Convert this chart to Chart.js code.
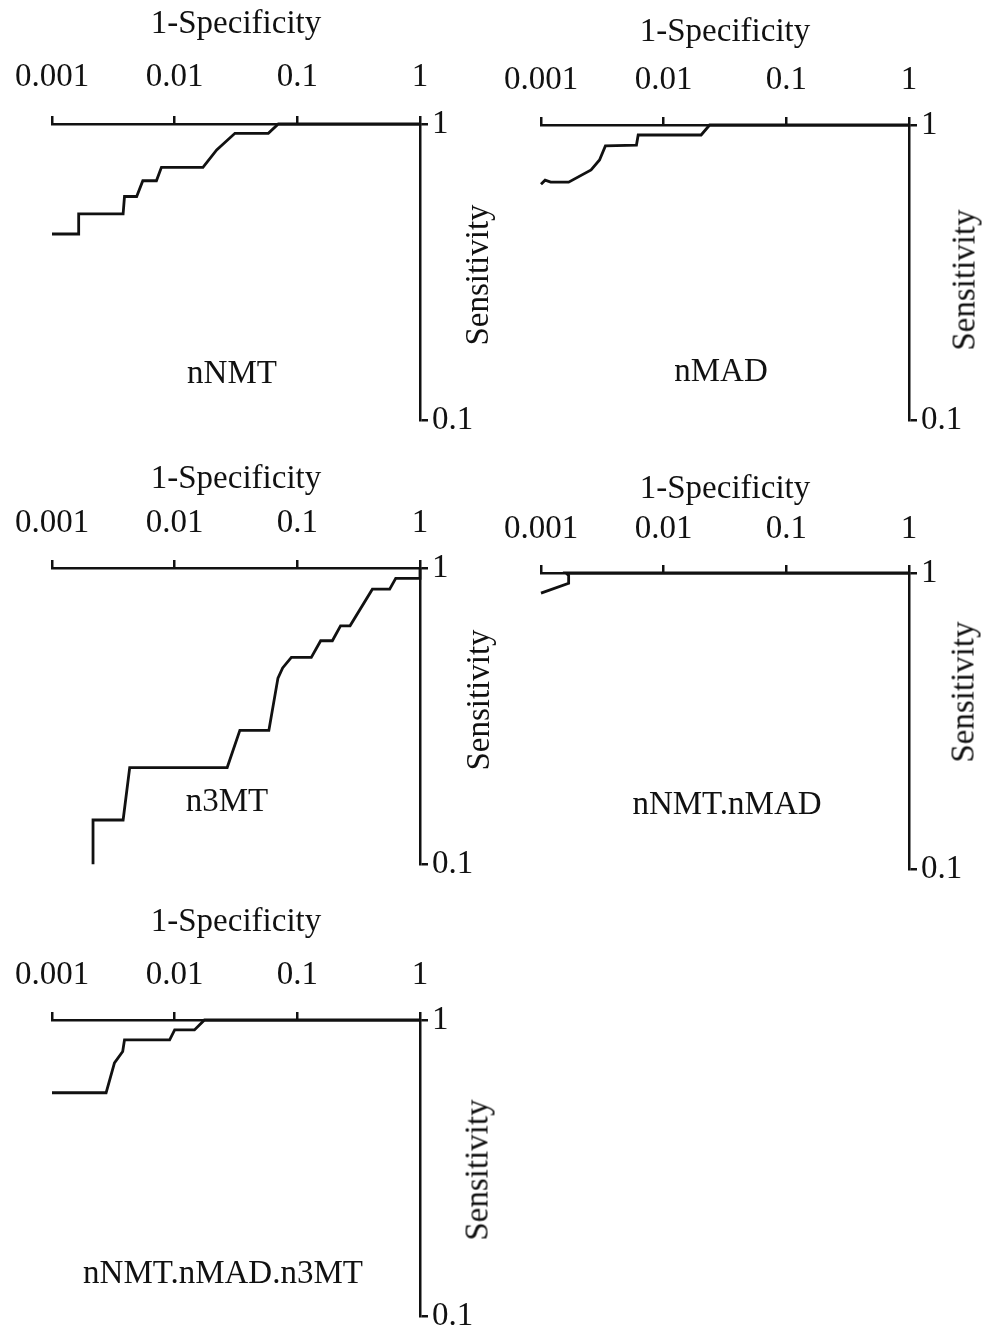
<!DOCTYPE html>
<html><head><meta charset="utf-8">
<script src="https://cdn.jsdelivr.net/npm/chart.js@4.4.1/dist/chart.umd.min.js"></script>
<style>
body{margin:0;background:#fff;width:986px;height:1335px;position:relative;overflow:hidden;font-family:"Liberation Serif","Times New Roman",serif;color:#111}
canvas{position:absolute}
.lbl{position:absolute;font-size:33px;line-height:1;white-space:nowrap;transform:translate(-50%,-50%)}
.rot{transform:translate(-50%,-50%) rotate(-90deg)}
</style></head><body>
<script>
// axis ticks
const xTicks=[0.001,0.01,0.1,1];
const xTickLabels=['0.001','0.01','0.1','1'];
const yTicks=[0.1,1];
const yTickLabels=['0.1','1'];

// ROC curves (1-specificity, sensitivity)
const nnmtFpr=[0.001,0.00165,0.00165,0.0038,0.0039,0.0049,0.0055,0.0071,0.0078,0.017,0.022,0.031,0.058,0.07,1];
const nnmtSens=[0.425,0.425,0.497,0.497,0.569,0.569,0.643,0.643,0.714,0.714,0.817,0.93,0.93,1,1];

const nmadFpr=[0.001,0.00108,0.0012,0.00168,0.00256,0.003,0.00335,0.006,0.0062,0.0202,0.0237,1];
const nmadSens=[0.63,0.65,0.64,0.64,0.704,0.761,0.849,0.855,0.925,0.925,1,1];

const n3mtFpr=[0.00216,0.00216,0.0038,0.0043,0.0268,0.034,0.0586,0.0695,0.0759,0.0894,0.13,0.155,0.193,0.225,0.269,0.409,0.566,0.634,1,1];
const n3mtSens=[0.1,0.141,0.141,0.212,0.212,0.283,0.283,0.425,0.46,0.499,0.499,0.568,0.568,0.638,0.638,0.848,0.848,0.923,0.923,1];

const nnmtNmadFpr=[0.001,0.00168,0.00168,0.0016,1];
const nnmtNmadSens=[0.855,0.923,0.98,1,1];

const allFpr=[0.001,0.00276,0.00323,0.00377,0.0039,0.0091,0.01,0.0145,0.0175,1];
const allSens=[0.568,0.568,0.716,0.783,0.857,0.857,0.926,0.926,1,1];

const FONT='"Liberation Serif","Times New Roman",serif';
const INK='#111';

// where each panel sits on the page
const panels=[
 {name:'nNMT',fpr:nnmtFpr,sens:nnmtSens,left:0,axisY:124,plotH:296,titlePad:11,tickPad:19,nameX:232,nameY:372,sensX:477,sensY:275},
 {name:'nMAD',fpr:nmadFpr,sens:nmadSens,left:489,axisY:125,plotH:295,titlePad:18,tickPad:17,nameX:721,nameY:370,sensX:964,sensY:280},
 {name:'n3MT',fpr:n3mtFpr,sens:n3mtSens,left:0,axisY:568,plotH:297,titlePad:22,tickPad:17,nameX:227,nameY:800,sensX:478,sensY:700},
 {name:'nNMT.nMAD',fpr:nnmtNmadFpr,sens:nnmtNmadSens,left:489,axisY:573,plotH:297,titlePad:27,tickPad:16,nameX:727,nameY:803,sensX:963,sensY:692},
 {name:'nNMT.nMAD.n3MT',fpr:allFpr,sens:allSens,left:0,axisY:1020,plotH:298,titlePad:13,tickPad:17,nameX:223,nameY:1272,sensX:477,sensY:1170}
];

const TOPH=130, CW=497, CH=450;

function addLabel(text,x,y,rot){
 let d=document.createElement('div');
 d.className='lbl'+(rot?' rot':'');
 d.textContent=text;
 d.style.left=x+'px';d.style.top=y+'px';
 document.body.appendChild(d);
}

panels.forEach(p=>{
 let cv=document.createElement('canvas');
 cv.width=CW;cv.height=CH;
 cv.style.left=p.left+'px';cv.style.top=(p.axisY-TOPH)+'px';
 document.body.appendChild(cv);
 new Chart(cv,{
  type:'scatter',
  data:{datasets:[{data:p.fpr.map((v,i)=>({x:v,y:p.sens[i]})),showLine:true,borderColor:INK,borderWidth:2.8,pointRadius:0,tension:0,clip:false}]},
  options:{
   responsive:false,animation:false,events:[],
   layout:{padding:{left:52,right:CW-52-368-70,top:0,bottom:CH-TOPH-p.plotH}},
   plugins:{legend:{display:false},tooltip:{enabled:false}},
   scales:{
    x:{type:'logarithmic',position:'top',min:0.001,max:1,
     afterBuildTicks:s=>{s.ticks=xTicks.map(v=>({value:v}));},
     afterFit:s=>{s.height=TOPH;s.paddingLeft=0;s.paddingRight=0;},
     ticks:{color:INK,font:{family:FONT,size:33},padding:p.tickPad,maxRotation:0,autoSkip:false,callback:(v,i)=>xTickLabels[i]},
     grid:{drawOnChartArea:false,drawTicks:true,tickLength:8,color:INK,lineWidth:2.5},
     border:{display:true,color:INK,width:2.5},
     title:{display:true,text:'1-Specificity',color:INK,font:{family:FONT,size:33},padding:{top:p.titlePad,bottom:0}}
    },
    y:{type:'logarithmic',position:'right',min:0.1,max:1,
     afterBuildTicks:s=>{s.ticks=yTicks.map(v=>({value:v}));},
     afterFit:s=>{s.width=70;},
     ticks:{color:INK,font:{family:FONT,size:33},padding:4,autoSkip:false,callback:(v,i)=>yTickLabels[i]},
     grid:{drawOnChartArea:false,drawTicks:true,tickLength:8,color:INK,lineWidth:2.5},
     border:{display:true,color:INK,width:2.5}
    }
   }
  }
 });
 addLabel(p.name,p.nameX,p.nameY,false);
 addLabel('Sensitivity',p.sensX,p.sensY,true);
});
</script>
</body></html>
